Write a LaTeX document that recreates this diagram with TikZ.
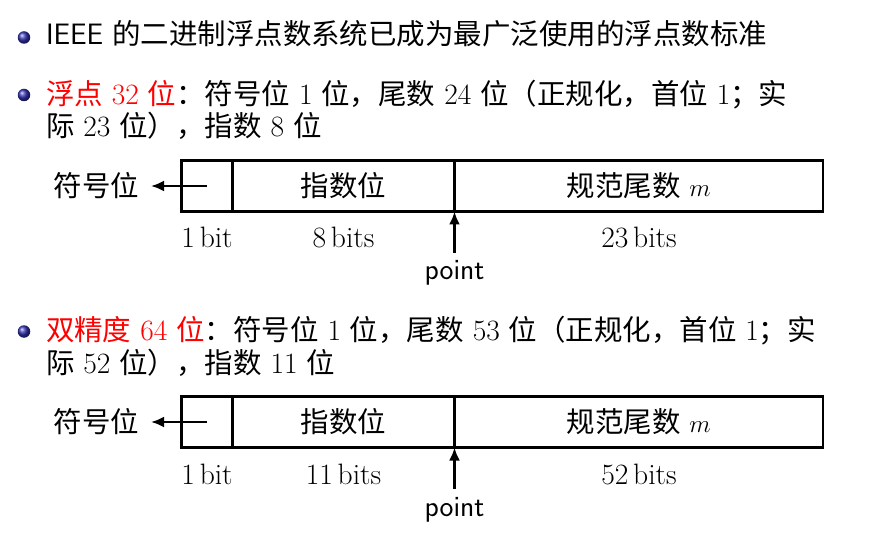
\documentclass[tikz,border=0pt]{standalone}
\usepackage{fontspec}
\newfontfamily\cjk[Scale=0.965]{Noto Sans CJK SC}
\usetikzlibrary{arrows.meta}
\newcommand\zh[1]{{\cjk #1}}
\definecolor{ballblue}{rgb}{0.2,0.2,0.7}
\tikzset{
  txt/.style={inner sep=0pt,outer sep=0pt,font=\fontsize{29.5}{34}\selectfont},
  line/.style={txt,anchor=base west},
  bul/.style={circle,inner sep=0pt,minimum size=12.5pt,ball color=ballblue},
  cell/.style={draw,line width=2.9pt,inner sep=0pt,outer sep=0pt,minimum height=51pt,anchor=north west,font=\fontsize{29.5}{34}\selectfont},
  arr/.style={line width=2.9pt,-{Latex[length=13pt,width=11pt]}},
  bits/.style={txt,anchor=base},
}
\begin{document}
\begin{tikzpicture}[x=1pt,y=-1pt]
\useasboundingbox (0,0) rectangle (870,545);
% bullets
\node[bul] (b1) at (24,37.5) {};
\node[bul] (b2) at (24,95) {};
\node[bul] (b3) at (24,331.5) {};
% text lines
\node[line] (l1) at (46,45) {\textsf{IEEE} \zh{的二进制浮点数系统已成为最广泛使用的浮点数标准}};
\node[line] (l2) at (46,105) {{\color{red}\zh{浮点} 32 \zh{位}}\zh{：符号位} 1 \zh{位，尾数} 24 \zh{位（正规化，首位} 1\zh{；实}};
\node[line] (l3) at (46,137) {\zh{际} 23 \zh{位），指数} 8 \zh{位}};
\node[line] (l4) at (46,340) {{\color{red}\zh{双精度} 64 \zh{位}}\zh{：符号位} 1 \zh{位，尾数} 53 \zh{位（正规化，首位} 1\zh{；实}};
\node[line] (l5) at (46,373) {\zh{际} 52 \zh{位），指数} 11 \zh{位}};
% first format
\node[cell,minimum width=51pt] (s1) at (181.5,160.5) {};
\node[cell,minimum width=222pt] (e1) at (232.5,160.5) {\zh{指数位}};
\node[cell,minimum width=368.5pt] (m1) at (454.5,160.5) {\zh{规范尾数} $m$};
\node[txt,anchor=east,outer xsep=12pt] (sl1) at (151,186) {\zh{符号位}};
\draw[arr] (s1.center) -- (sl1.east);
\node[bits] (bs1) at (207,248) {1\,bit};
\node[bits] (be1) at (343.5,248) {8\,bits};
\node[bits] (bm1) at (639,248) {23\,bits};
\node[txt,anchor=base,font=\fontsize{29.5}{34}\selectfont\sffamily,outer ysep=8pt] (p1) at (454.5,280) {point};
\draw[arr] (p1.north) -- (e1.south east);
% second format
\node[cell,minimum width=51pt] (s2) at (181.5,396.5) {};
\node[cell,minimum width=222pt] (e2) at (232.5,396.5) {\zh{指数位}};
\node[cell,minimum width=368.5pt] (m2) at (454.5,396.5) {\zh{规范尾数} $m$};
\node[txt,anchor=east,outer xsep=12pt] (sl2) at (151,422) {\zh{符号位}};
\draw[arr] (s2.center) -- (sl2.east);
\node[bits] (bs2) at (207,484) {1\,bit};
\node[bits] (be2) at (343.5,484) {11\,bits};
\node[bits] (bm2) at (639,484) {52\,bits};
\node[txt,anchor=base,font=\fontsize{29.5}{34}\selectfont\sffamily,outer ysep=8pt] (p2) at (454.5,516) {point};
\draw[arr] (p2.north) -- (e2.south east);
\end{tikzpicture}
\end{document}
